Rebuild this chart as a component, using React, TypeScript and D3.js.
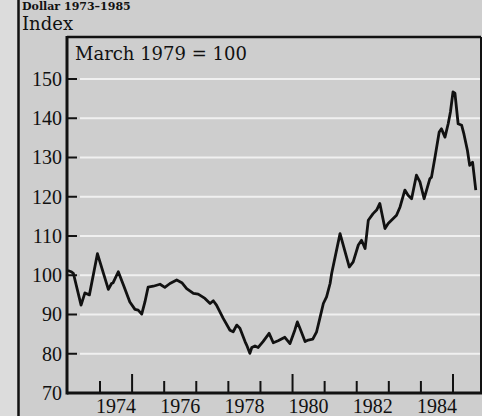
import * as d3 from "d3";

// values (decimal year, index March 1979 = 100)
const dates = [
  1973.0, 1973.1, 1973.17, 1973.41, 1973.53, 1973.67, 1973.92, 1974.26, 1974.36, 1974.41,
  1974.57, 1974.73, 1974.93, 1975.09, 1975.19, 1975.3, 1975.4, 1975.5, 1975.66, 1975.87,
  1976.02, 1976.18, 1976.39, 1976.55, 1976.7, 1976.91, 1977.06, 1977.27, 1977.43, 1977.53,
  1977.63, 1977.84, 1978.05, 1978.15, 1978.26, 1978.36, 1978.52, 1978.57, 1978.67, 1978.73,
  1978.83, 1978.93, 1979.08, 1979.27, 1979.4, 1979.55, 1979.76, 1979.92, 1980.07, 1980.15,
  1980.23, 1980.39, 1980.49, 1980.63, 1980.75, 1980.85, 1980.96, 1981.06, 1981.17, 1981.22,
  1981.48, 1981.77, 1981.89, 1982.05, 1982.15, 1982.26, 1982.36, 1982.51, 1982.62, 1982.72,
  1982.88, 1982.98, 1983.13, 1983.24, 1983.35, 1983.5, 1983.6, 1983.71, 1983.86, 1983.97,
  1984.1, 1984.28, 1984.33, 1984.44, 1984.57, 1984.64, 1984.75, 1984.85, 1984.92, 1985.0,
  1985.06, 1985.16, 1985.27, 1985.34, 1985.45, 1985.52, 1985.61, 1985.71,
];
const values = [
  101.2, 100.9, 100.5, 92.4, 95.5, 95.0, 105.5, 96.4, 97.9, 98.1,
  100.9, 97.5, 93.2, 91.3, 91.1, 90.1, 93.2, 97.0, 97.2, 97.7,
  96.9, 97.9, 98.8, 98.1, 96.6, 95.4, 95.2, 94.1, 92.8, 93.5,
  92.4, 89.0, 86.0, 85.6, 87.3, 86.5, 83.1, 82.2, 80.1, 81.6,
  82.0, 81.6, 83.1, 85.2, 82.8, 83.3, 84.2, 82.6, 86.0, 88.1,
  86.5, 83.1, 83.5, 83.7, 85.6, 89.0, 92.8, 94.5, 97.9, 100.5,
  110.6, 102.1, 103.4, 107.7, 108.9, 106.8, 114.0, 115.7, 116.6, 118.3,
  111.9, 113.2, 114.4, 115.3, 117.4, 121.7, 120.4, 119.5, 125.5, 123.8,
  119.5, 124.6, 125.0, 130.1, 136.5, 137.3, 135.2, 138.6, 141.6, 146.7,
  146.4, 138.6, 138.2, 136.0, 131.8, 128.0, 128.8, 121.7,
];

const yTicks = [70, 80, 90, 100, 110, 120, 130, 140, 150];
const gridValues = [80, 90, 100, 110, 120, 130, 140, 150];
const tickYears = [1974, 1975, 1976, 1977, 1978, 1979, 1980, 1981, 1982, 1983, 1984, 1985];
const labelYears = [1974, 1976, 1978, 1980, 1982, 1984];

const W = 482;
const H = 416;
const frame = { left: 67, top: 37, right: 481, bottom: 393 };
const numFont = "'Liberation Serif', serif";
const wordFont = "'DejaVu Serif', serif";

export default function App() {
  const x = d3.scaleLinear().domain([1974, 1985]).range([100, 453]);
  const y = d3.scaleLinear().domain([70, 150]).range([frame.bottom, 79]);

  const points = dates.map((d, i) => [d, values[i]] as [number, number]);
  const line = d3
    .line<[number, number]>()
    .x((d) => x(d[0]))
    .y((d) => y(d[1]));

  return (
    <svg
      width={W}
      height={H}
      viewBox={`0 0 ${W} ${H}`}
      style={{ position: "absolute", left: 0, top: 0, display: "block" }}
    >
      <defs>
        <clipPath id="plotclip">
          <rect x={frame.left} y={frame.top} width={frame.right - frame.left} height={frame.bottom - frame.top} />
        </clipPath>
      </defs>
      <rect x={0} y={0} width={W} height={H} fill="#cecece" />
      <rect x={0} y={0} width={18} height={H} fill="#dcdcdc" />
      <line x1={18.5} x2={18.5} y1={0} y2={H} stroke="#111" strokeWidth={2.5} />

      {/* title, sits tight against the top edge */}
      <text x={22} y={10} fontFamily={wordFont} fontWeight="bold" fontSize={11} fill="#111">
        Dollar 1973–1985
      </text>
      <text x={22} y={30} fontFamily={wordFont} fontSize={18} fill="#111">
        Index
      </text>

      {/* white gridlines */}
      {gridValues.map((v) => (
        <line key={v} x1={80} x2={frame.right} y1={y(v)} y2={y(v)} stroke="#f0f0f0" strokeWidth={2} />
      ))}

      {/* y ticks and labels */}
      {yTicks.map((v) => (
        <g key={v}>
          {v > 70 && (
            <line x1={frame.left} x2={frame.left + 10} y1={y(v)} y2={y(v)} stroke="#111" strokeWidth={2} />
          )}
          <text
            x={62}
            y={y(v)}
            dy="0.34em"
            textAnchor="end"
            fontFamily={numFont}
            fontSize={20}
            fill="#111"
          >
            {v}
          </text>
        </g>
      ))}

      {/* x ticks: taller every five years */}
      {tickYears.map((t) => (
        <line
          key={t}
          x1={x(t)}
          x2={x(t)}
          y1={frame.bottom}
          y2={frame.bottom - (t % 5 === 0 ? 19 : 12)}
          stroke="#111"
          strokeWidth={2}
        />
      ))}
      {labelYears.map((t) => (
        <text
          key={t}
          x={x(t + 0.5)}
          y={413}
          textAnchor="middle"
          fontFamily={numFont}
          fontSize={20}
          fill="#111"
        >
          {t}
        </text>
      ))}

      <path
        d={line(points) ?? ""}
        fill="none"
        stroke="#111"
        strokeWidth={2.8}
        strokeLinejoin="round"
        clipPath="url(#plotclip)"
      />

      {/* frame */}
      <line x1={frame.left} x2={frame.right} y1={frame.top} y2={frame.top} stroke="#111" strokeWidth={2.5} />
      <line x1={frame.left} x2={frame.left} y1={frame.top - 1} y2={frame.bottom + 1.5} stroke="#111" strokeWidth={3} />
      <line x1={frame.right} x2={frame.right} y1={frame.top} y2={frame.bottom} stroke="#111" strokeWidth={2} />
      <line x1={frame.left} x2={W} y1={frame.bottom} y2={frame.bottom} stroke="#111" strokeWidth={3} />

      <text x={75} y={60} fontFamily={wordFont} fontSize={18} fill="#111">
        March 1979 = 100
      </text>
    </svg>
  );
}
